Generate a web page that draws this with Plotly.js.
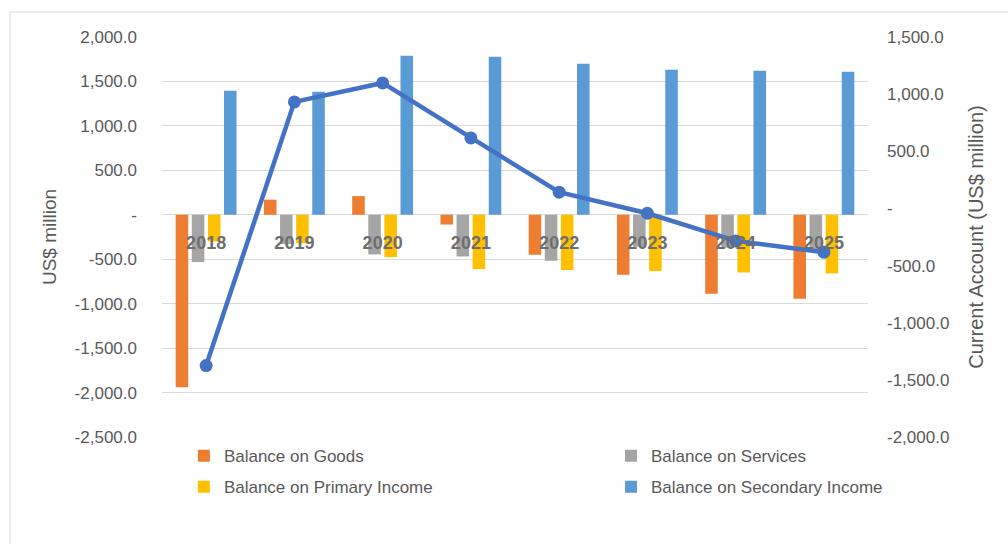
<!DOCTYPE html>
<html>
<head>
<meta charset="utf-8">
<script src="https://cdn.plot.ly/plotly-3.0.1.min.js"></script>
<style>
html,body{margin:0;padding:0;background:#fff;}
#chart{width:1008px;height:544px;}
</style>
</head>
<body>
<div id="chart"></div>
<script>
var years = ['2018','2019','2020','2021','2022','2023','2024','2025'];
var goods = [-1940, 170, 210, -110, -450, -675, -889, -945];
var services = [-532, -330, -446, -469, -517, -360, -370, -385];
var primaryIncome = [-300, -320, -476, -611, -622, -633, -649, -660];
var secondaryIncome = [1395, 1384, 1789, 1777, 1699, 1631, 1620, 1609];
var currentAccount = [-1375, 932, 1098, 617, 142, -42, -284, -383];

var leftTickVals = [2000, 1500, 1000, 500, 0, -500, -1000, -1500, -2000, -2500];
var leftTickText = ['2,000.0','1,500.0','1,000.0','500.0','-','-500.0','-1,000.0','-1,500.0','-2,000.0','-2,500.0'];
var rightTickVals = [1500, 1000, 500, 0, -500, -1000, -1500, -2000];
var rightTickText = ['1,500.0','1,000.0','500.0','-','-500.0','-1,000.0','-1,500.0','-2,000.0'];

var FONT = '"Liberation Sans", Arial, sans-serif';
var GRAY = '#595959';

function bar(name, y, color, legend, group) {
  return {type:'bar', name:name, x:years, y:y, marker:{color:color},
    legend:legend, legendgroup:group, hoverinfo:'x+y+name'};
}

var data = [
  bar('Balance on Goods', goods, '#ED7D31', 'legend', 'g1'),
  bar('Balance on Services', services, '#A5A5A5', 'legend2', 'g2'),
  bar('Balance on Primary Income', primaryIncome, '#FFC000', 'legend', 'g3'),
  bar('Balance on Secondary Income', secondaryIncome, '#5B9BD5', 'legend2', 'g4'),
  {type:'scatter', mode:'lines+markers', name:'Current Account', x:years, y:currentAccount,
   yaxis:'y2', showlegend:false, line:{color:'#4472C4', width:4.5},
   marker:{color:'#4472C4', size:13}}
];

var legendCommon = {
  orientation:'v', yanchor:'top', xanchor:'left', y:-0.003,
  traceorder:'grouped', tracegroupgap:6,
  font:{family:FONT, size:17, color:GRAY}, bgcolor:'rgba(0,0,0,0)'
};

var layout = {
  width:1008, height:544,
  margin:{l:162, r:140, t:37, b:107},
  paper_bgcolor:'#fff', plot_bgcolor:'#fff',
  font:{family:FONT, size:17, color:GRAY},
  barmode:'group', bargap:0.27, bargroupgap:0.22,
  xaxis:{type:'category', anchor:'free', position:0.555, showgrid:false, showline:false,
    ticks:'', ticklabelstandoff:15, tickfont:{family:FONT, size:18, color:'#6e6e6e', weight:'bold'},
    layer:'above traces', fixedrange:true},
  yaxis:{range:[-2500, 2000], tickvals:leftTickVals, ticktext:leftTickText, showgrid:true,
    gridcolor:'#d9d9d9', gridwidth:1, zeroline:false, showline:false, ticks:'',
    ticklabelstandoff:24, tickfont:{family:FONT, size:17, color:GRAY},
    title:{text:'US$ million', font:{family:FONT, size:19, color:GRAY}, standoff:12}},
  yaxis2:{range:[-2000, 1500], overlaying:'y', side:'right', tickvals:rightTickVals, ticktext:rightTickText,
    showgrid:false, zeroline:false, showline:false, ticks:'', ticklabelstandoff:18,
    tickfont:{family:FONT, size:17, color:GRAY},
    title:{text:'Current Account (US$ million)', font:{family:FONT, size:20, color:GRAY}, standoff:20}},
  legend: Object.assign({}, legendCommon, {x:0.031}),
  legend2: Object.assign({}, legendCommon, {x:0.636}),
  shapes:[{type:'rect', xref:'paper', yref:'paper', x0:-0.2153, x1:1.3, y0:-0.4, y1:1.0625,
    line:{color:'#d9d9d9', width:1}, fillcolor:'rgba(0,0,0,0)', layer:'below'}],
  showlegend:true
};

Plotly.newPlot('chart', data, layout, {displayModeBar:false, staticPlot:true});
</script>
</body>
</html>
